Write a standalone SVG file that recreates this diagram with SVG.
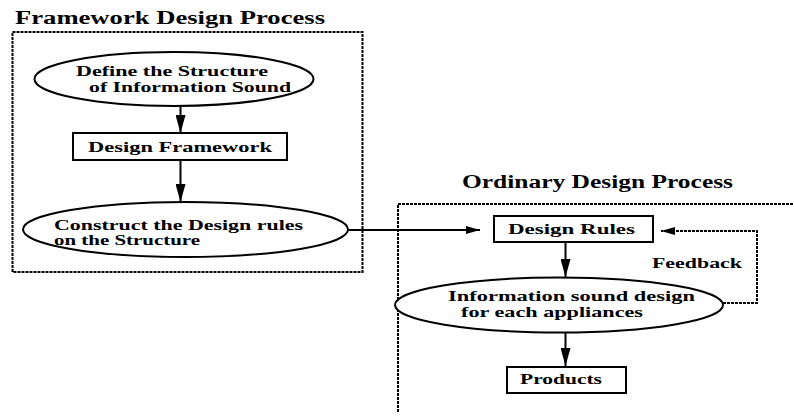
<svg xmlns="http://www.w3.org/2000/svg" width="794" height="416" viewBox="0 0 794 416">
<defs>
<style>
text{font-family:"Liberation Serif","DejaVu Serif",serif;font-weight:bold;fill:#000;}
.t{font-size:15px;}
.h{font-size:18px;}
.shape{fill:#fff;stroke:#000;stroke-width:2;}
.frame{fill:none;stroke:#000;stroke-width:2;stroke-dasharray:3 1;}
.line{fill:none;stroke:#000;stroke-width:2;}
.dot{fill:none;stroke:#000;stroke-width:2;stroke-dasharray:3 1;}
</style>
<marker id="ah" viewBox="0 0 18 10" refX="18" refY="5" markerWidth="18" markerHeight="10" markerUnits="userSpaceOnUse" orient="auto">
<path d="M0,0 L18,5 L0,10 Z" fill="#000"/>
</marker>
<marker id="ahs" viewBox="0 0 14 8" refX="14" refY="4" markerWidth="14" markerHeight="8" markerUnits="userSpaceOnUse" orient="auto">
<path d="M0,0 L14,4 L0,8 Z" fill="#000"/>
</marker>
</defs>
<rect width="794" height="416" fill="#fff"/>
<g id="frames">
<text class="h" x="15" y="24" textLength="310" lengthAdjust="spacingAndGlyphs">Framework Design Process</text>
<rect class="frame" x="12.5" y="32" width="350" height="240"/>
<text class="h" x="462" y="188" textLength="271" lengthAdjust="spacingAndGlyphs">Ordinary Design Process</text>
<path class="frame" d="M398,412 L398,204 L794,204"/>
</g>
<g id="connectors">
<path class="line" d="M180.5,106 L180.5,133" marker-end="url(#ah)"/>
<path class="line" d="M180.5,160 L180.5,202" marker-end="url(#ah)"/>
<path class="line" d="M348,230 L480,230" marker-end="url(#ahs)"/>
<path class="line" d="M565.5,242 L565.5,277" marker-end="url(#ah)"/>
<path class="dot" d="M723,303 L757,303 L757,231 L661,231" marker-end="url(#ahs)"/>
<path class="line" d="M565.5,333 L565.5,366" marker-end="url(#ah)"/>
<text class="t" x="652" y="268" textLength="90" lengthAdjust="spacingAndGlyphs">Feedback</text>
</g>
<g id="n1">
<ellipse class="shape" cx="174" cy="79" rx="139.5" ry="27"/>
<text class="t" x="76" y="76" textLength="192" lengthAdjust="spacingAndGlyphs">Define the Structure</text>
<text class="t" x="89" y="92" textLength="202" lengthAdjust="spacingAndGlyphs">of Information Sound</text>
</g>
<g id="n2">
<rect class="shape" x="73" y="133" width="214" height="27"/>
<text class="t" x="88" y="152" textLength="184" lengthAdjust="spacingAndGlyphs">Design Framework</text>
</g>
<g id="n3">
<ellipse class="shape" cx="185.5" cy="229.5" rx="162.5" ry="27.5"/>
<text class="t" x="54" y="230" textLength="249" lengthAdjust="spacingAndGlyphs">Construct the Design rules</text>
<text class="t" x="54" y="245" textLength="146" lengthAdjust="spacingAndGlyphs">on the Structure</text>
</g>
<g id="n4">
<rect class="shape" x="494" y="216" width="159" height="26"/>
<text class="t" x="508" y="234" textLength="127" lengthAdjust="spacingAndGlyphs">Design Rules</text>
</g>
<g id="n5">
<ellipse class="shape" cx="559" cy="305" rx="164" ry="27.5"/>
<text class="t" x="448" y="301" textLength="247" lengthAdjust="spacingAndGlyphs">Information sound design</text>
<text class="t" x="461" y="317" textLength="182" lengthAdjust="spacingAndGlyphs">for each appliances</text>
</g>
<g id="n6">
<rect class="shape" x="507" y="367" width="119" height="26"/>
<text class="t" x="520" y="384" textLength="82" lengthAdjust="spacingAndGlyphs">Products</text>
</g>
</svg>
